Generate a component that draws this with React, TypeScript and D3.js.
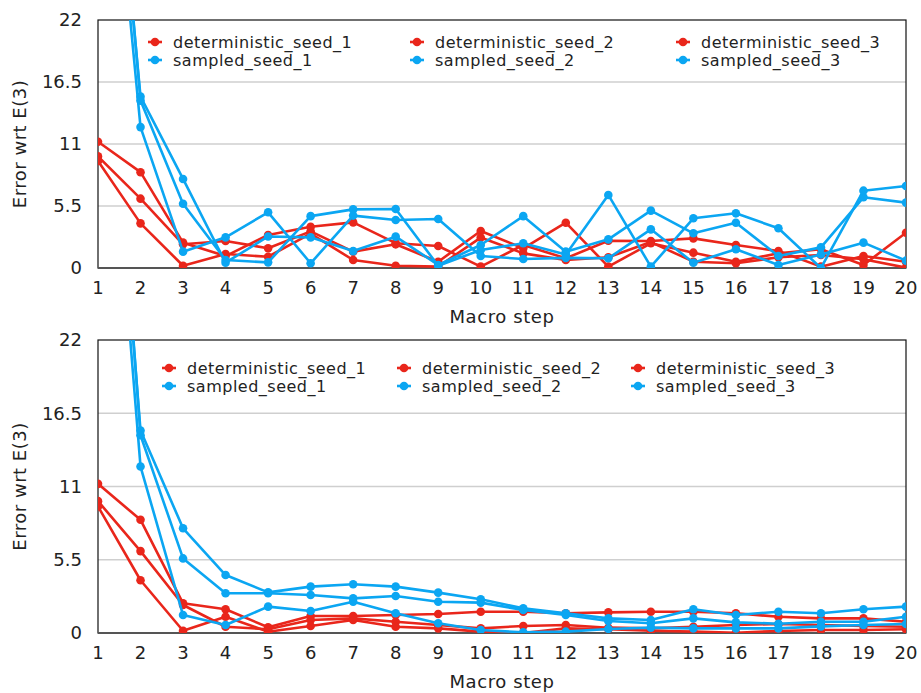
import React, { useEffect, useRef } from 'react';
import * as d3 from 'd3';

const steps = d3.range(1, 21);
const yTicks = [0, 5.5, 11, 16.5, 22];
const seriesNames = ['deterministic_seed_1', 'deterministic_seed_2', 'deterministic_seed_3', 'sampled_seed_1', 'sampled_seed_2', 'sampled_seed_3'];

// top panel
const topDet1 = [11.2, 8.5, 2.25, 1.06, 2.93, 3.66, 4.05, 2.2, 1.95, 0.12, 2.04, 0.86, 2.42, 2.4, 2.63, 2.04, 1.5, 0.12, 1.06, 0.56];
const topDet2 = [9.9, 6.15, 2.1, 2.4, 1.75, 3.25, 1.45, 2.1, 0.56, 3.28, 1.75, 4.02, 0.12, 2.19, 1.36, 0.56, 1.3, 1.66, 0.27, 3.13];
const topDet3 = [9.5, 3.96, 0.2, 1.24, 1.0, 3.05, 0.71, 0.2, 0.12, 2.7, 1.3, 0.71, 0.95, 2.3, 0.56, 0.42, 0.95, 1.15, 0.77, 0.03];
const topSamp1 = [55, 15.2, 7.9, 0.47, 2.8, 2.72, 1.5, 2.78, 0.27, 2.04, 4.6, 1.45, 2.54, 5.09, 3.08, 4.02, 1.06, 1.83, 6.27, 5.8];
const topSamp2 = [58, 14.85, 5.7, 0.71, 0.5, 4.6, 5.2, 5.23, 0.2, 1.6, 2.19, 1.2, 6.48, 0.12, 4.41, 4.85, 3.52, 0, 6.86, 7.27];
const topSamp3 = [52, 12.5, 1.45, 2.72, 4.94, 0.42, 4.65, 4.26, 4.35, 1.06, 0.8, 0.9, 0.86, 3.43, 0.47, 1.66, 0.27, 1.2, 2.25, 0.65];

// bottom panel
const botDet1 = [11.2, 8.5, 2.23, 1.78, 0.43, 1.28, 1.28, 1.35, 1.43, 1.6, 1.6, 1.48, 1.55, 1.6, 1.6, 1.48, 1.22, 1.1, 1.1, 0.85];
const botDet2 = [9.9, 6.15, 2.1, 0.47, 0.28, 0.98, 1.1, 0.85, 0.6, 0.35, 0.53, 0.6, 0.4, 0.35, 0.47, 0.6, 0.68, 0.6, 0.53, 0.47];
const botDet3 = [9.5, 3.96, 0.17, 1.22, 0.1, 0.53, 0.98, 0.47, 0.35, 0.1, 0.0, 0.35, 0.28, 0.17, 0.1, 0.02, 0.15, 0.23, 0.23, 0.28];
const botSamp1 = [55, 15.2, 7.86, 4.35, 3.05, 3.48, 3.66, 3.48, 3.03, 2.53, 1.85, 1.48, 1.1, 0.98, 1.78, 1.35, 1.6, 1.48, 1.78, 1.98];
const botSamp2 = [58, 14.85, 5.6, 2.98, 2.98, 2.85, 2.6, 2.78, 2.35, 2.28, 1.73, 1.35, 0.9, 0.73, 1.1, 0.8, 0.7, 0.85, 0.85, 1.22];
const botSamp3 = [52, 12.5, 1.35, 0.6, 1.98, 1.65, 2.35, 1.48, 0.73, 0.23, 0.05, 0.1, 0.3, 0.4, 0.35, 0.35, 0.35, 0.5, 0.6, 0.68];

const RED = '#e9261b';
const BLUE = '#0ba6f2';
const FONT = '"DejaVu Sans", "Noto Sans", sans-serif';

const drawPanel = (svg, id, series, box, legendCols) => {
  const { left, right, top, bottom } = box;
  const x = d3.scaleLinear().domain([1, 20]).range([left, right]);
  const y = d3.scaleLinear().domain([0, 22]).range([bottom, top]);

  const g = svg.append('g');

  g.append('defs').append('clipPath').attr('id', id)
    .append('rect').attr('x', left).attr('y', top).attr('width', right - left).attr('height', bottom - top);

  // grid lines
  g.selectAll('.grid').data(yTicks.filter(t => t > 0 && t < 22)).enter().append('line')
    .attr('x1', left).attr('x2', right)
    .attr('y1', d => y(d)).attr('y2', d => y(d))
    .attr('stroke', '#cfcfcf').attr('stroke-width', 1.5);

  // frame
  g.append('rect').attr('x', left).attr('y', top).attr('width', right - left).attr('height', bottom - top)
    .attr('fill', 'none').attr('stroke', '#111').attr('stroke-width', 1.2);
  g.append('line').attr('x1', left).attr('x2', right).attr('y1', bottom).attr('y2', bottom)
    .attr('stroke', '#555').attr('stroke-width', 2);

  // y ticks
  g.selectAll('.ytick').data(yTicks).enter().append('text')
    .attr('x', left - 16).attr('y', d => y(d)).attr('dy', '0.36em')
    .attr('text-anchor', 'end').style('font-size', '18px').style('font-family', FONT).attr('fill', '#222')
    .text(d => d);

  // x ticks
  g.selectAll('.xtick').data(steps).enter().append('text')
    .attr('x', d => x(d)).attr('y', bottom + 20).attr('dy', '0.36em')
    .attr('text-anchor', 'middle').style('font-size', '18px').style('font-family', FONT).attr('fill', '#222')
    .text(d => d);

  g.append('text')
    .attr('x', (left + right) / 2).attr('y', bottom + 49).attr('dy', '0.36em')
    .attr('text-anchor', 'middle').style('font-size', '18px').style('letter-spacing', '0.6px')
    .style('font-family', FONT).attr('fill', '#222')
    .text('Macro step');

  g.append('text')
    .attr('transform', `translate(20, ${(top + bottom) / 2}) rotate(-90)`)
    .attr('dy', '0.36em')
    .attr('text-anchor', 'middle').style('font-size', '18px').style('letter-spacing', '0.5px')
    .style('font-family', FONT).attr('fill', '#222')
    .text('Error wrt E(3)');

  const line = d3.line().x((d, i) => x(steps[i])).y(d => y(d));
  const plot = g.append('g').attr('clip-path', `url(#${id})`);

  series.forEach(s => {
    plot.append('path').datum(s.values)
      .attr('d', line).attr('fill', 'none')
      .attr('stroke', s.color).attr('stroke-width', 2.6).attr('stroke-linejoin', 'round');
    plot.selectAll(null).data(s.values).enter().append('circle')
      .attr('cx', (d, i) => x(steps[i])).attr('cy', d => y(d))
      .attr('r', 4.3).attr('fill', s.color);
  });

  // legend
  const legend = g.append('g');
  series.forEach((s, i) => {
    const col = i % 3;
    const row = Math.floor(i / 3);
    const lx = legendCols.xs[col];
    const ly = legendCols.y + row * 18;
    legend.append('line').attr('x1', lx - 7).attr('x2', lx + 7).attr('y1', ly).attr('y2', ly)
      .attr('stroke', s.color).attr('stroke-width', 2.6);
    legend.append('circle').attr('cx', lx).attr('cy', ly).attr('r', 4.3).attr('fill', s.color);
    legend.append('text').attr('x', lx + 18).attr('y', ly).attr('dy', '0.36em')
      .style('font-size', '16px').style('letter-spacing', '0.5px')
      .style('font-family', FONT).attr('fill', '#222')
      .text(s.name);
  });
};

const App = () => {
  const svgRef = useRef();

  useEffect(() => {
    const svg = d3.select(svgRef.current);
    svg.selectAll('*').remove();

    const topValues = [topDet1, topDet2, topDet3, topSamp1, topSamp2, topSamp3];
    const botValues = [botDet1, botDet2, botDet3, botSamp1, botSamp2, botSamp3];
    const mk = vals => seriesNames.map((name, i) => ({ name, values: vals[i], color: i < 3 ? RED : BLUE }));

    drawPanel(svg, 'clipTop', mk(topValues), { left: 98, right: 906, top: 20, bottom: 268 }, { xs: [155, 417, 683], y: 42 });
    drawPanel(svg, 'clipBot', mk(botValues), { left: 98, right: 906, top: 340, bottom: 633 }, { xs: [169, 404, 638], y: 368 });
  }, []);

  return (
    <svg ref={svgRef} width={921} height={693}
      style={{ position: 'absolute', left: 0, top: 0, background: '#fff' }} />
  );
};

export default App;
